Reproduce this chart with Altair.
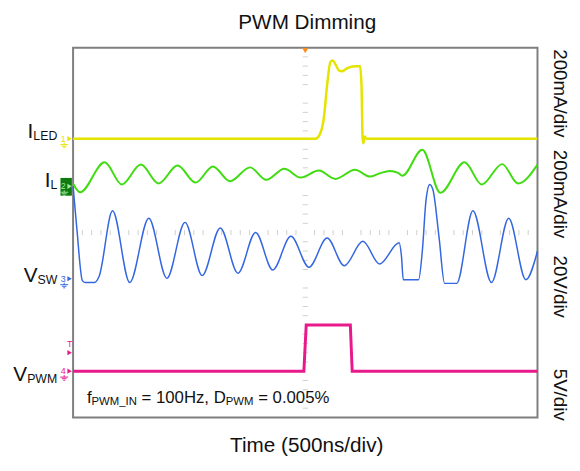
import altair as alt
import pandas as pd

FONT = "Liberation Sans"

# ---------------- text content ----------------
TITLE = "PWM Dimming"
X_TITLE = "Time (500ns/div)"
SCALE_LABELS = ["200mA/div", "200mA/div", "20V/div", "5V/div"]
CH_MAIN = ["I", "I", "V", "V"]
CH_SUB = ["LED", "L", "SW", "PWM"]
CH_DIGITS = ["1", "2", "3", "4"]
NOTE_PARTS = ["f", "PWM_IN", "= 100Hz, D", "PWM", "= 0.005%"]

# ---------------- traces (time in div 0-10, level in div 0-8) ----------------
iled_t = [0.0, 5.22, 5.32, 5.40, 5.47, 5.54, 5.59, 5.66, 5.72, 5.79, 5.88, 5.96,
          6.08, 6.18, 6.21, 6.235, 6.25, 6.28, 6.32, 10.0]
iled_v = [6.03, 6.03, 6.14, 6.48, 7.19, 7.69, 7.72, 7.62, 7.51, 7.49, 7.54, 7.58,
          7.60, 7.60, 7.20, 6.03, 5.93, 6.08, 6.03, 6.03]

il_t = [0.0, 0.15, 0.68, 1.05, 1.46, 1.84, 2.25, 2.64, 3.01, 3.38, 3.81, 4.16,
        4.55, 4.90, 5.29, 5.65, 6.07, 6.39, 6.60, 6.82, 7.00, 7.09, 7.52, 7.91,
        8.43, 8.80, 9.24, 9.58, 10.0]
il_v = [5.06, 4.87, 5.52, 5.04, 5.47, 5.06, 5.45, 5.08, 5.43, 5.11, 5.41, 5.14,
        5.38, 5.19, 5.34, 5.16, 5.36, 5.21, 5.28, 5.33, 5.29, 5.23, 5.79, 4.86,
        5.52, 5.04, 5.48, 5.06, 5.47]

vsw_t = [0.0, 0.08, 0.20, 0.26, 0.46, 0.56, 0.85, 1.22, 1.63, 2.02, 2.41, 2.78,
         3.17, 3.55, 3.93, 4.30, 4.69, 5.08, 5.47, 5.84, 6.24, 6.60, 7.02, 7.07,
         7.11, 7.44, 7.52, 7.60, 7.68, 7.75, 7.88, 8.00, 8.26, 8.61, 9.01, 9.38,
         9.75, 10.0]
vsw_v = [5.00, 4.10, 2.96, 2.92, 2.92, 3.05, 4.47, 2.92, 4.31, 3.01, 4.22, 3.07,
         4.10, 3.12, 4.00, 3.19, 3.92, 3.25, 3.88, 3.28, 3.81, 3.32, 3.78, 3.50,
         2.98, 2.98, 3.60, 4.70, 5.04, 4.92, 3.90, 2.90, 2.90, 4.47, 2.92, 4.31,
         2.98, 3.60]

vpwm_t = [0.0, 4.97, 5.02, 5.97, 6.01, 10.0]
vpwm_v = [1.0, 1.0, 2.0, 2.0, 1.0, 1.0]

ch_levels = [6.03, 5.0, 3.0, 1.0]
trig_level = 1.40
trig_time = 5.0

COLORS = ["#e4e400", "#3fdc10", "#3366e0", "#e8198b"]
WIDTHS = [2.5, 2.0, 1.5, 3.0]
INTERP = ["monotone", "monotone", "monotone", "linear"]

xs = alt.Scale(domain=[0, 10], nice=False, zero=False)
ys = alt.Scale(domain=[0, 8], nice=False, zero=False)
ax_x = alt.Axis(values=list(range(11)), grid=True, gridColor="#d9d9d9", gridWidth=1.5,
                labels=False, ticks=False, domain=False, title=None)
ax_y = alt.Axis(values=list(range(9)), grid=True, gridColor="#d9d9d9", gridWidth=1.5,
                labels=False, ticks=False, domain=False, title=None)

one = pd.DataFrame({"a": [0]})
layers = []

# grid holder layer (carries the axes / gridlines)
grid_df = pd.DataFrame({"t": [0, 10], "v": [0, 8]})
layers.append(alt.Chart(grid_df).mark_point(opacity=0).encode(
    x=alt.X("t:Q", scale=xs, axis=ax_x), y=alt.Y("v:Q", scale=ys, axis=ax_y)))

# minor ticks on the centre cross
minor_t = [k / 5 for k in range(1, 50) if k % 5]
minor_v = [k / 5 for k in range(1, 40) if k % 5]
layers.append(alt.Chart(pd.DataFrame({"t": minor_t})).mark_rule(color="#cfcfcf", strokeWidth=1).encode(
    x=alt.X("t:Q", scale=xs, axis=None), y=alt.datum(3.945), y2=alt.datum(4.055)))
layers.append(alt.Chart(pd.DataFrame({"v": minor_v})).mark_rule(color="#cfcfcf", strokeWidth=1).encode(
    y=alt.Y("v:Q", scale=ys, axis=None), x=alt.datum(4.945), x2=alt.datum(5.055)))

# traces
for (t, v), c, w, ip in zip([(iled_t, iled_v), (il_t, il_v), (vsw_t, vsw_v), (vpwm_t, vpwm_v)],
                            COLORS, WIDTHS, INTERP):
    df = pd.DataFrame({"t": t, "v": v})
    layers.append(alt.Chart(df).mark_line(color=c, strokeWidth=w, interpolate=ip).encode(
        x=alt.X("t:Q", scale=xs, axis=None), y=alt.Y("v:Q", scale=ys, axis=None)))

# trigger marker on top
layers.append(alt.Chart(one).mark_point(shape="triangle-down", filled=True, size=40,
                                        color="#ff8c1a", opacity=1).encode(
    x=alt.datum(trig_time), y=alt.value(3)))

GROUND = "M0,1L0,1.5M-1,1.5L1,1.5M-0.6,1.9L0.6,1.9M-0.25,2.3L0.25,2.3"
BOX = "M-0.58,-0.85L0.58,-0.85L0.58,0.95L-0.58,0.95Z"

for i, lvl in enumerate(ch_levels):
    c = COLORS[i]
    fg = c
    if i == 1:
        layers.append(alt.Chart(one).mark_point(shape=BOX, filled=True, size=400, color="#0f7a0f",
                                                opacity=1).encode(
            x=alt.value(-7), y=alt.datum(lvl)))
        fg = "#9be89b"
    layers.append(alt.Chart(one).mark_point(shape="triangle-right", filled=True, size=28, color=fg,
                                            opacity=1).encode(
        x=alt.value(-3.5), y=alt.datum(lvl)))
    layers.append(alt.Chart(one).mark_text(text=CH_DIGITS[i], fontSize=9, font=FONT, color=fg,
                                           align="center", baseline="middle").encode(
        x=alt.value(-10), y=alt.datum(lvl)))
    layers.append(alt.Chart(one).mark_point(shape=GROUND, filled=False, size=64, color=fg,
                                            strokeWidth=1, opacity=1).encode(
        x=alt.value(-9), y=alt.datum(lvl)))

# trigger level marker (channel 4)
layers.append(alt.Chart(one).mark_point(shape="triangle-right", filled=True, size=28, color=COLORS[3],
                                        opacity=1).encode(x=alt.value(-3.5), y=alt.datum(trig_level)))
layers.append(alt.Chart(one).mark_text(text="T", fontSize=9, font=FONT, color=COLORS[3],
                                       align="center", baseline="middle", dy=-9).encode(
    x=alt.value(-3.5), y=alt.datum(trig_level)))


def txt(s, x, y, size, align="left", baseline="alphabetic", angle=0, color="#111111"):
    return alt.Chart(one).mark_text(text=s, fontSize=size, font=FONT, color=color, align=align,
                                    baseline=baseline, angle=angle).encode(
        x=alt.value(x), y=alt.value(y))


# title and x title
layers.append(txt(TITLE, 237.5, -19, 21, align="center"))
layers.append(txt(X_TITLE, 237, 410, 21, align="center"))

# left channel labels: main letter right-aligned, subscript left-aligned
main_x = [-40.3, -23.0, -36.0, -46.6]
main_y = [92, 141, 238, 337.7]
for m, s, x, y in zip(CH_MAIN, CH_SUB, main_x, main_y):
    layers.append(txt(m, x, y, 21, align="right"))
    layers.append(txt(s, x, y + 2, 12.5, align="left"))

# right scale labels (rotated)
scale_y = [46.5, 148.5, 242.5, 352]
for s, y in zip(SCALE_LABELS, scale_y):
    layers.append(txt(s, 493.5, y, 19, align="center", baseline="middle", angle=90))

# annotation with subscripts
note_x = [14, 18.7, 69.4, 154.9, 187.7]
note_sz = [17, 11.5, 17, 11.5, 17]
note_y = [360, 362, 360, 362, 360]
for s, x, sz, y in zip(NOTE_PARTS, note_x, note_sz, note_y):
    layers.append(txt(s, x, y, sz))

chart = alt.layer(*layers).properties(
    width=471, height=375,
    autosize=alt.AutoSizeParams(type="none"),
    padding={"left": 66, "top": 37, "right": 35, "bottom": 42},
    background="white",
).configure_view(stroke="#7f7f7f", strokeWidth=2)

chart.save("out.html", embed_options={"renderer": "svg", "actions": False})
